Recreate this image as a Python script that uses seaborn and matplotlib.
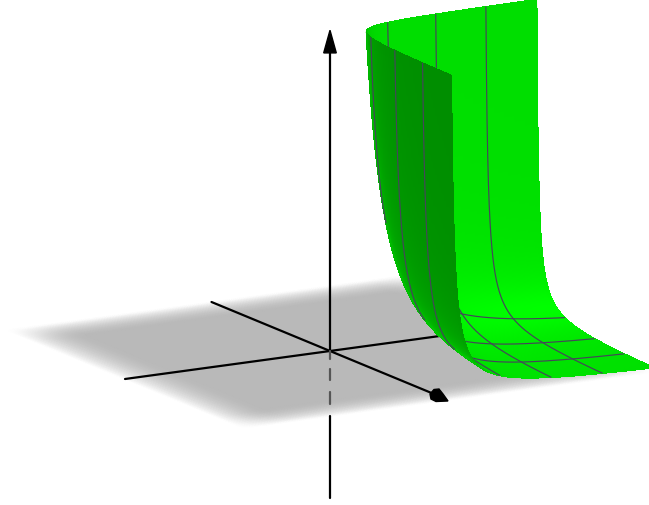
import numpy as np
import matplotlib
matplotlib.use("Agg")
import matplotlib.pyplot as plt
from matplotlib.collections import PolyCollection
from matplotlib.colors import LinearSegmentedColormap
import seaborn as sns

# --- values ---
grid_levels = [0.25, 0.5, 0.75]          # surface grid lines, in x and in y
x_axis_range = [-1.0, 0.93]
y_axis_range = [-1.0, 1.0]
z_axis_lower = [-0.455, -0.2]            # solid part under the floor
z_axis_dashes = [[-0.025, 0.0], [-0.09, -0.056], [-0.164, -0.127]]
z_axis_upper = [0.0, 0.94]
floor_range = [-1.0, 1.0]
floor_fade = 0.27
floor_gray = 0.725
surface_k = 0.0136                       # fitted: z = k / (x y), cut at z = 1
grid_color = "#45455a"

# projection of the picture's 3D view
ORIGIN = np.array([330.0, 351.0])
EX = np.array([118.5, 49.0])
EY = np.array([205.0, -28.0])
EZ = np.array([0.0, -324.0])


def project(x, y, z):
    x, y, z = np.asarray(x, float), np.asarray(y, float), np.asarray(z, float)
    return (ORIGIN[0] + EX[0] * x + EY[0] * y + EZ[0] * z,
            ORIGIN[1] + EX[1] * x + EY[1] * y + EZ[1] * z)


def surf(x, y):
    return surface_k / (x * y)


def back_facing(x, y):
    k = surface_k * 324.0
    return (118.5 * (-28 + k / (x * y * y)) - 205.0 * (49 + k / (x * x * y))) > 0


sns.set_theme(style="white")
fig = plt.figure(figsize=(6.49, 5.05), dpi=100)
ax = fig.add_axes([0, 0, 1, 1])
ax.set_xlim(0, 649)
ax.set_ylim(505, 0)
ax.axis("off")

# floor
fg = np.linspace(floor_range[0], floor_range[1], 201)
FX, FY = np.meshgrid(fg, fg)


def fade(u):
    t = np.clip((1 - np.abs(u)) / floor_fade, 0, 1)
    return t * (2 - t)


shade = fade(FX) * fade(FY)
sx, sy = project(FX, FY, 0 * FX)
cmap = LinearSegmentedColormap.from_list("floor", ["#ffffff", (floor_gray,) * 3])
ax.pcolormesh(sx, sy, shade, cmap=cmap, vmin=0, vmax=1, shading="gouraud", zorder=1)


def line(xs, ys, zs, color="black", lw=1.6, zorder=3, **kw):
    px, py = project(xs, ys, zs)
    sns.lineplot(x=px, y=py, sort=False, estimator=None, color=color, lw=lw,
                 zorder=zorder, ax=ax, legend=False, **kw)


# axes
line(x_axis_range, [0, 0], [0, 0])
line([0, 0], y_axis_range, [0, 0])
line([0, 0], [0, 0], z_axis_upper)
line([0, 0], [0, 0], z_axis_lower)
for d in z_axis_dashes:
    line([0, 0], [0, 0], d, color="#555555")

# arrow heads
hx, hy = project([0, 0], [0, 0], [0.99, 0.92])
ax.fill([hx[0], hx[1] - 6.3, hx[1] + 6.3], [hy[0], hy[1], hy[1]], color="black", zorder=4)
ax.fill([448, 436, 431, 430, 434, 439, 443], [401, 401.5, 399, 394, 389.5, 389, 394],
        color="black", zorder=4)

# surface mesh: s = x*y from the cut level to 1, t moves along each contour
s = np.exp(np.linspace(np.log(surface_k), 0, 160))
t = np.linspace(0, 1, 200)
S, T = np.meshgrid(s, t, indexing="ij")
X = S ** T
Y = S ** (1 - T)
Z = surf(X, Y)
PX, PY = project(X, Y, Z)

polys = np.stack([
    np.stack([PX[:-1, :-1], PY[:-1, :-1]], -1),
    np.stack([PX[1:, :-1], PY[1:, :-1]], -1),
    np.stack([PX[1:, 1:], PY[1:, 1:]], -1),
    np.stack([PX[:-1, 1:], PY[:-1, 1:]], -1),
], axis=2)

CX = (X[:-1, :-1] + X[1:, 1:]) / 2
CY = (Y[:-1, :-1] + Y[1:, 1:]) / 2
wk = surface_k * 2.5
nx, ny, nz = wk / (CX ** 2 * CY), wk / (CX * CY ** 2), np.ones_like(CX)
nn = np.sqrt(nx ** 2 + ny ** 2 + nz ** 2)
lit = np.abs(nx + nz) / nn * 0.7071
green = np.clip(140 + 115 * lit, 0, 255) / 255
colors = np.stack([0 * green, green, 0 * green], -1)
back = back_facing(CX, CY)


def outer_cells(mask):
    pad = np.pad(mask, 1, constant_values=False)
    inner = pad[2:, 1:-1] & pad[:-2, 1:-1] & pad[1:-1, 2:] & pad[1:-1, :-2]
    return mask & ~inner


for mask, z in ((~back, 5), (back, 7)):
    # interior without anti-aliasing (no seams), border cells smoothed on top
    ax.add_collection(PolyCollection(polys[mask], facecolors=colors[mask],
                                     edgecolors=colors[mask], linewidths=0.5,
                                     antialiaseds=False, zorder=z))
    rim = outer_cells(mask)
    ax.add_collection(PolyCollection(polys[rim], facecolors=colors[rim],
                                     edgecolors=colors[rim], linewidths=0.6,
                                     antialiaseds=True, zorder=z + 0.1))


def grid_line(xs, ys):
    b = back_facing(xs, ys)
    idx = np.flatnonzero(np.diff(b.astype(int))) + 1
    for c in np.split(np.arange(len(xs)), idx):
        if len(c) < 2:
            continue
        line(xs[c], ys[c], surf(xs[c], ys[c]), color=grid_color, lw=0.85,
             zorder=8 if b[c[0]] else 6)


for lev in grid_levels:
    other = np.exp(np.linspace(np.log(surface_k / lev), 0, 500))
    grid_line(np.full_like(other, lev), other)
    grid_line(other, np.full_like(other, lev))

fig.savefig("out.png", dpi=100, facecolor="white")
